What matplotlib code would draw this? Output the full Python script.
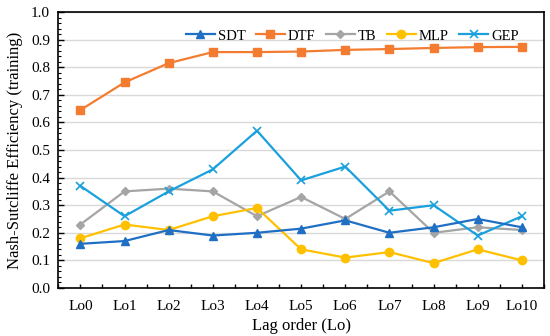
import numpy as np
import matplotlib
matplotlib.use("Agg")
import matplotlib.pyplot as plt

plt.rcParams["font.family"] = ["Liberation Serif", "DejaVu Serif"]

# lag orders and NSE values (training)
lags = ["Lo0", "Lo1", "Lo2", "Lo3", "Lo4", "Lo5", "Lo6", "Lo7", "Lo8", "Lo9", "Lo10"]
sdt = [0.16, 0.17, 0.21, 0.19, 0.20, 0.215, 0.245, 0.20, 0.22, 0.25, 0.22]
dtf = [0.645, 0.745, 0.815, 0.855, 0.855, 0.857, 0.863, 0.866, 0.870, 0.873, 0.874]
tb = [0.23, 0.35, 0.36, 0.35, 0.26, 0.33, 0.25, 0.35, 0.20, 0.22, 0.21]
mlp = [0.18, 0.23, 0.21, 0.26, 0.29, 0.14, 0.11, 0.13, 0.09, 0.14, 0.10]
gep = [0.37, 0.26, 0.35, 0.43, 0.57, 0.39, 0.44, 0.28, 0.30, 0.19, 0.26]

x = np.arange(len(lags))

fig = plt.figure(figsize=(5.5, 3.36), dpi=100)
ax = fig.add_axes([0.106, 0.143, 0.883, 0.821])

ax.plot(x, sdt, color="#1f6fc4", marker="^", markersize=6, lw=1.6, label="SDT", zorder=5)
ax.plot(x, dtf, color="#f47c30", marker="s", markersize=6, lw=1.6, label="DTF", zorder=4)
ax.plot(x, tb, color="#a5a5a5", marker="D", markersize=4.5, lw=1.6, label="TB", zorder=3)
ax.plot(x, mlp, color="#ffc000", marker="o", markersize=6, lw=1.6, label="MLP", zorder=3)
ax.plot(x, gep, color="#1aa0dc", marker="x", markersize=6, mew=1.2, lw=1.6, label="GEP", zorder=4)

ax.set_xlim(-0.5, 10.5)
ax.set_ylim(0, 1.0)
yt = np.arange(0, 1.01, 0.1)
ax.set_yticks(yt)
ax.set_yticklabels([f"{v:.1f}" for v in yt], fontsize=11)
ax.set_yticks(np.arange(0, 1.001, 0.02), minor=True)
ax.set_xticks(x)
ax.set_xticklabels(lags, fontsize=11)
ax.set_xticks(np.arange(-0.5, 10.6, 1), minor=True)
ax.tick_params(axis="x", which="both", direction="in", length=3, width=1)
ax.tick_params(axis="x", which="major", pad=9)
ax.tick_params(axis="y", which="major", direction="in", length=4, width=1, pad=6)
ax.tick_params(axis="y", which="minor", direction="in", length=2.5, width=0.8)
ax.grid(axis="y", which="major", color="#d9d9d9", lw=1)
ax.set_axisbelow(True)
for s in ax.spines.values():
    s.set_linewidth(1.2)

ax.set_xlabel("Lag order (Lo)", fontsize=12, labelpad=3)
ax.set_ylabel("Nash-Sutcliffe Efficiency (training)", fontsize=12, labelpad=6)

ax.legend(loc="upper right", ncol=5, frameon=False, fontsize=10.5,
          handlelength=2.0, handletextpad=0.2, columnspacing=0.7,
          bbox_to_anchor=(0.975, 0.985))

fig.savefig("out.png", dpi=100)
